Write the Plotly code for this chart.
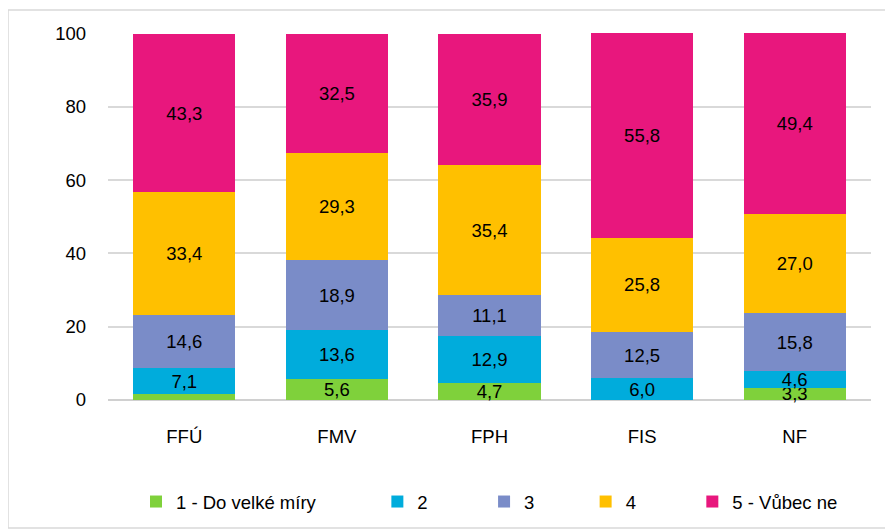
import plotly.graph_objects as go

categories = ["FFÚ", "FMV", "FPH", "FIS", "NF"]
series_names = ["1 - Do velké míry", "2", "3", "4", "5 - Vůbec ne"]
s1 = [1.6, 5.6, 4.7, 0.0, 3.3]
s2 = [7.1, 13.6, 12.9, 6.0, 4.6]
s3 = [14.6, 18.9, 11.1, 12.5, 15.8]
s4 = [33.4, 29.3, 35.4, 25.8, 27.0]
s5 = [43.3, 32.5, 35.9, 55.8, 49.4]
s1_labelled = [False, True, True, False, True]
colors = ["#7fd13b", "#00acdc", "#7a8cc8", "#ffc000", "#e8177d"]
y_ticks = [0, 20, 40, 60, 80, 100]

FONT = "Liberation Sans, Arial, sans-serif"
FS = 18.5
pads = [11, 10, 9, 10, 0]

def fmt(v):
    return f"{v:.1f}".replace(".", ",")

fig = go.Figure()
all_series = [s1, s2, s3, s4, s5]
for i, (name, vals) in enumerate(zip(series_names, all_series)):
    if i == 0:
        texts = [fmt(v) if show else "" for v, show in zip(vals, s1_labelled)]
    else:
        texts = [fmt(v) for v in vals]
    fig.add_trace(go.Bar(
        x=categories, y=vals, name=name + "\u00a0" * pads[i],
        marker=dict(color=colors[i], line=dict(width=0)),
        text=texts, textposition="inside", insidetextanchor="middle",
        textangle=0, textfont=dict(family=FONT, size=FS, color="black"),
        cliponaxis=False, hoverinfo="skip",
    ))

fig.update_layout(
    barmode="stack", bargap=0.33,
    width=885, height=521,
    margin=dict(l=100, r=22, t=25, b=129, autoexpand=False),
    paper_bgcolor="white", plot_bgcolor="white",
    font=dict(family=FONT, size=FS, color="black"),
    uniformtext=dict(minsize=FS, mode="show"),
    showlegend=True,
    legend=dict(orientation="h", x=0.0367, xanchor="left",
                yref="container", y=1 - 494 / 521, yanchor="middle",
                font=dict(family=FONT, size=FS), traceorder="normal"),
    yaxis=dict(range=[0, 100.2], tickvals=y_ticks, showgrid=True, gridcolor="#d9d9d9",
               gridwidth=1.5, zeroline=True, zerolinecolor="#d0d0d0", zerolinewidth=2,
               showline=False, ticklabelstandoff=21, fixedrange=True),
    xaxis=dict(showline=False, ticklabelstandoff=23, fixedrange=True),
    shapes=[dict(type="rect", xref="paper", yref="paper",
                 x0=(0 - 100) / 763, x1=(884 - 100) / 763,
                 y0=(392 - 520) / 367, y1=(392 - 2) / 367,
                 line=dict(color="#d9d9d9", width=1.5), fillcolor="rgba(0,0,0,0)", layer="below")],
)

fig.write_html("out.html")
